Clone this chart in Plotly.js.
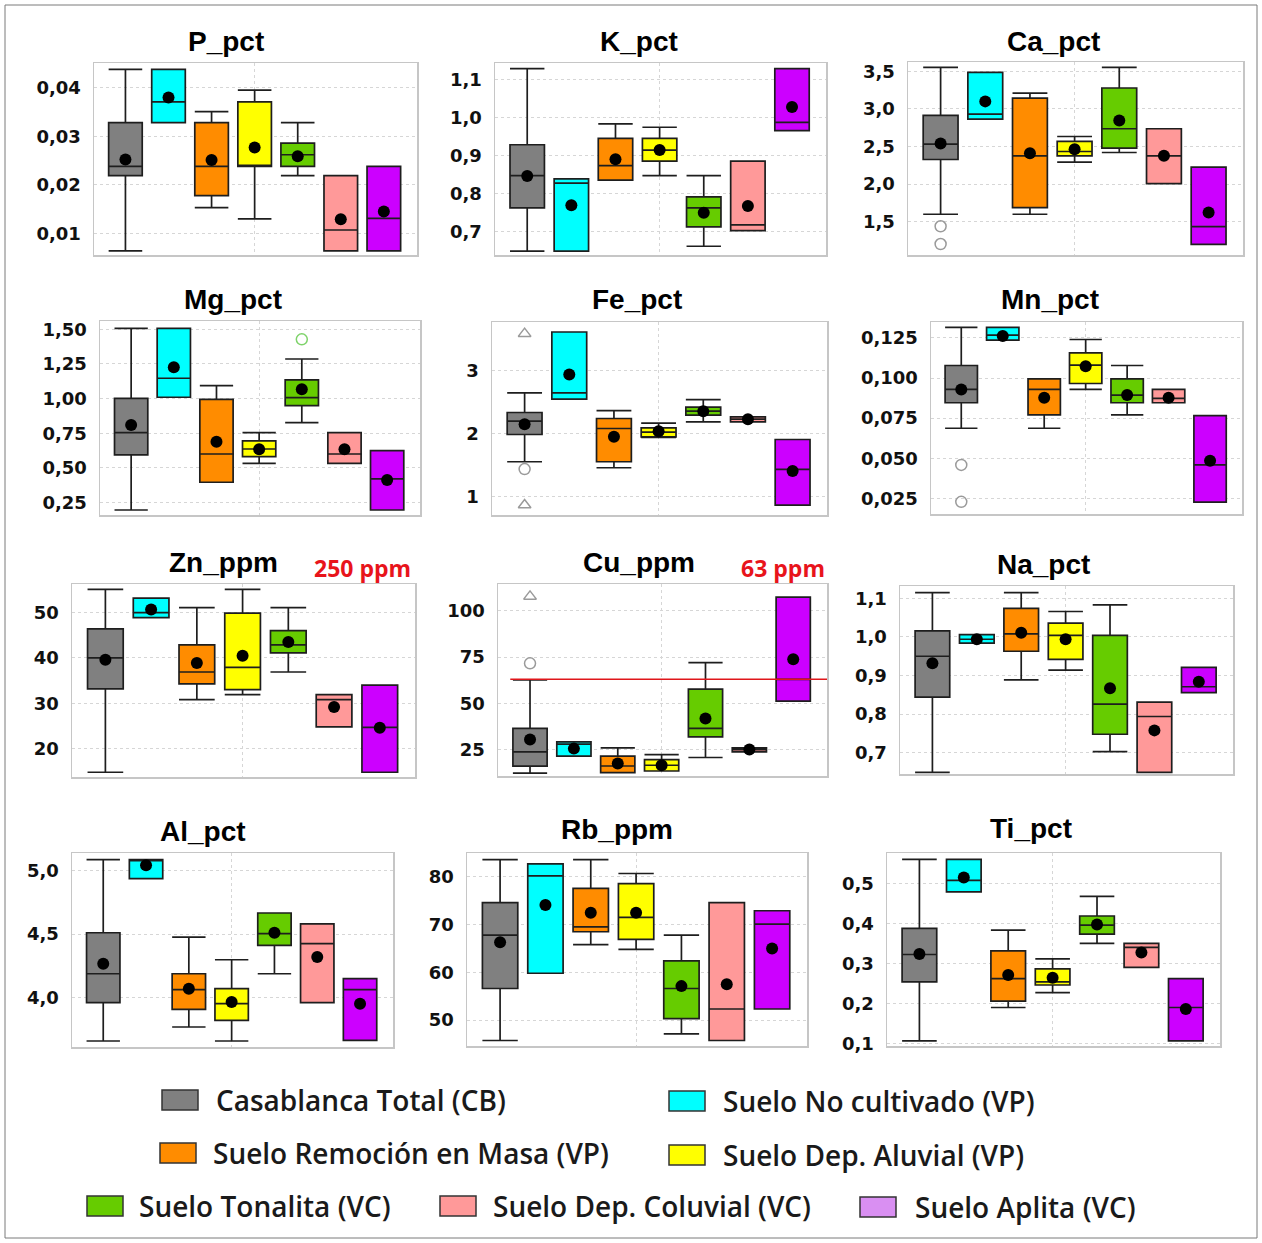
<!DOCTYPE html>
<html>
<head>
<meta charset="utf-8">
<script src="https://cdn.plot.ly/plotly-3.0.1.min.js"></script>
<style>html,body{margin:0;padding:0;background:#fff}#chart{width:1262px;height:1243px}</style>
</head>
<body>
<div id="chart"></div>
<script>
// ---------------- DATA ----------------
const groups = ['Casablanca Total (CB)', 'Suelo No cultivado (VP)', 'Suelo Remoción en Masa (VP)',
  'Suelo Dep. Aluvial (VP)', 'Suelo Tonalita (VC)', 'Suelo Dep. Coluvial (VC)', 'Suelo Aplita (VC)'];
const panelNames = ['P_pct', 'K_pct', 'Ca_pct', 'Mg_pct', 'Fe_pct', 'Mn_pct',
  'Zn_ppm', 'Cu_ppm', 'Na_pct', 'Al_pct', 'Rb_ppm', 'Ti_pct'];

// order of each array: gray, cyan, orange, yellow, green, pink, purple
const P_pct = {
  lo:   [0.0064, 0.0328, 0.0153, 0.0130, 0.0219, 0.0064, 0.0064],
  q1:   [0.0219, 0.0328, 0.0178, 0.0238, 0.0238, 0.0064, 0.0064],
  med:  [0.0238, 0.0371, 0.0238, 0.0238, 0.0262, 0.0107, 0.0131],
  q3:   [0.0328, 0.0438, 0.0328, 0.0371, 0.0286, 0.0219, 0.0238],
  hi:   [0.0438, 0.0438, 0.0351, 0.0395, 0.0328, 0.0219, 0.0238],
  mean: [0.0252, 0.0380, 0.0251, 0.0277, 0.0259, 0.0129, 0.0145]
};
const K_pct = {
  lo:   [0.649, 0.649, 0.836, 0.848, 0.662, 0.703, 0.966],
  q1:   [0.763, 0.649, 0.836, 0.886, 0.713, 0.703, 0.966],
  med:  [0.848, 0.828, 0.874, 0.915, 0.763, 0.718, 0.988],
  q3:   [0.929, 0.839, 0.946, 0.946, 0.792, 0.886, 1.129],
  hi:   [1.129, 0.839, 0.984, 0.975, 0.848, 0.886, 1.129],
  mean: [0.847, 0.770, 0.891, 0.915, 0.750, 0.768, 1.028]
};
const Ca_pct = {
  lo:   [1.598, 2.864, 1.598, 2.291, 2.420, 2.007, 1.198],
  q1:   [2.327, 2.864, 1.687, 2.376, 2.478, 2.007, 1.198],
  med:  [2.531, 2.930, 2.376, 2.433, 2.736, 2.376, 1.433],
  q3:   [2.913, 3.487, 3.144, 2.567, 3.278, 2.736, 2.224],
  hi:   [3.553, 3.487, 3.211, 2.633, 3.553, 2.736, 2.224],
  mean: [2.540, 3.100, 2.411, 2.464, 2.847, 2.376, 1.620]
};
const Mg_pct = {
  lo:   [0.197, 1.010, 0.397, 0.534, 0.827, 0.534, 0.197],
  q1:   [0.594, 1.010, 0.397, 0.582, 0.950, 0.534, 0.197],
  med:  [0.755, 1.147, 0.601, 0.637, 1.007, 0.601, 0.421],
  q3:   [1.002, 1.507, 0.995, 0.695, 1.135, 0.755, 0.625],
  hi:   [1.507, 1.507, 1.094, 0.755, 1.286, 0.755, 0.625],
  mean: [0.810, 1.226, 0.690, 0.635, 1.067, 0.635, 0.413]
};
const Fe_pct = {
  lo:   [1.553, 2.542, 1.458, 1.940, 2.184, 2.184, 0.868],
  q1:   [1.984, 2.542, 1.553, 1.947, 2.289, 2.184, 0.868],
  med:  [2.195, 2.642, 2.079, 2.021, 2.353, 2.226, 1.432],
  q3:   [2.332, 3.605, 2.237, 2.089, 2.416, 2.263, 1.905],
  hi:   [2.642, 3.605, 2.363, 2.163, 2.537, 2.263, 1.905],
  mean: [2.147, 2.932, 1.947, 2.037, 2.353, 2.226, 1.405]
};
const Mn_pct = {
  lo:   [0.0687, 0.1236, 0.0687, 0.0929, 0.0770, 0.0846, 0.0227],
  q1:   [0.0846, 0.1236, 0.0770, 0.0966, 0.0846, 0.0846, 0.0227],
  med:  [0.0929, 0.1267, 0.0929, 0.1080, 0.0894, 0.0873, 0.0459],
  q3:   [0.1078, 0.1316, 0.0995, 0.1157, 0.0995, 0.0929, 0.0766],
  hi:   [0.1316, 0.1316, 0.0995, 0.1240, 0.1078, 0.0929, 0.0766],
  mean: [0.0929, 0.1262, 0.0877, 0.1074, 0.0894, 0.0877, 0.0484]
};
const Zn_ppm = {
  lo:   [14.8, 48.9, 30.8, 31.9, 36.9, 24.8, 14.8],
  q1:   [33.2, 48.9, 34.3, 33.0, 41.1, 24.8, 14.8],
  med:  [40.0, 50.0, 36.9, 37.9, 42.9, 30.8, 24.7],
  q3:   [46.4, 53.2, 42.9, 49.9, 46.0, 31.9, 34.0],
  hi:   [55.1, 53.2, 51.1, 55.1, 51.1, 31.9, 34.0],
  mean: [39.6, 50.7, 38.9, 40.5, 43.5, 29.2, 24.6]
};
const Cu_ppm = {
  lo:   [12.3, 21.4, 12.5, 13.4, 20.7, 23.7, 51.2],
  q1:   [16.0, 21.4, 12.5, 13.4, 31.9, 23.7, 51.2],
  med:  [23.7, 27.9, 16.1, 16.5, 36.4, 25.0, 62.9],
  q3:   [36.4, 29.2, 21.4, 19.6, 57.7, 25.9, 107.4],
  hi:   [62.6, 29.2, 25.9, 22.3, 72.0, 25.9, 107.4],
  mean: [30.4, 25.5, 17.4, 16.5, 41.8, 25.0, 73.8]
};
const Na_pct = {
  lo:   [0.649, 0.984, 0.889, 0.914, 0.703, 0.649, 0.856],
  q1:   [0.844, 0.984, 0.963, 0.942, 0.748, 0.649, 0.856],
  med:  [0.950, 0.994, 1.008, 1.004, 0.826, 0.794, 0.871],
  q3:   [1.016, 1.006, 1.074, 1.036, 1.004, 0.831, 0.921],
  hi:   [1.115, 1.006, 1.115, 1.066, 1.083, 0.831, 0.921],
  mean: [0.932, 0.994, 1.011, 0.994, 0.867, 0.758, 0.884]
};
const Al_pct = {
  lo:   [3.660, 4.935, 3.770, 3.660, 4.188, 3.961, 3.665],
  q1:   [3.961, 4.935, 3.908, 3.822, 4.411, 3.961, 3.665],
  med:  [4.188, 5.084, 4.063, 3.953, 4.503, 4.424, 4.063],
  q3:   [4.510, 5.084, 4.188, 4.071, 4.665, 4.579, 4.149],
  hi:   [5.084, 5.084, 4.476, 4.298, 4.665, 4.579, 4.149],
  mean: [4.267, 5.039, 4.071, 3.966, 4.510, 4.319, 3.953]
};
const Rb_ppm = {
  lo:   [45.7, 59.8, 65.8, 64.8, 47.1, 45.7, 52.3],
  q1:   [56.6, 59.8, 68.5, 66.9, 50.3, 45.7, 52.3],
  med:  [67.8, 80.2, 69.5, 71.5, 56.6, 52.3, 70.1],
  q3:   [74.6, 82.7, 77.6, 78.6, 62.4, 74.6, 72.9],
  hi:   [83.6, 82.7, 83.6, 80.7, 67.8, 74.6, 72.9],
  mean: [66.3, 74.1, 72.5, 72.5, 57.1, 57.5, 65.0]
};
const Ti_pct = {
  lo:   [0.108, 0.479, 0.191, 0.228, 0.351, 0.291, 0.108],
  q1:   [0.255, 0.479, 0.207, 0.247, 0.374, 0.291, 0.108],
  med:  [0.323, 0.508, 0.263, 0.255, 0.396, 0.341, 0.191],
  q3:   [0.388, 0.560, 0.332, 0.287, 0.419, 0.351, 0.263],
  hi:   [0.560, 0.560, 0.384, 0.312, 0.468, 0.351, 0.263],
  mean: [0.324, 0.515, 0.272, 0.265, 0.398, 0.328, 0.187]
};

// outliers: [panel index, group index, values, symbol]
const outliers = [
  [2, 0, [1.438, 1.202], 'circle-open'],
  [3, 4, [1.428], 'circle-open'],
  [4, 0, [1.437], 'circle-open'],
  [4, 0, [3.579, 0.868], 'triangle-up-open'],
  [5, 0, [0.0459, 0.0229], 'circle-open'],
  [7, 0, [71.6], 'circle-open'],
  [7, 0, [107.8], 'triangle-up-open']
];

// y-axis ticks and ranges
const yTicks = [
  [0.01, 0.02, 0.03, 0.04], [0.7, 0.8, 0.9, 1.0, 1.1], [1.5, 2.0, 2.5, 3.0, 3.5],
  [0.25, 0.50, 0.75, 1.00, 1.25, 1.50], [1, 2, 3], [0.025, 0.050, 0.075, 0.100, 0.125],
  [20, 30, 40, 50], [25, 50, 75, 100], [0.7, 0.8, 0.9, 1.0, 1.1],
  [4.0, 4.5, 5.0], [50, 60, 70, 80], [0.1, 0.2, 0.3, 0.4, 0.5]
];
const yFormats = ['.2f', '.1f', '.1f', '.2f', 'd', '.3f', 'd', 'd', '.1f', '.1f', 'd', '.1f'];
const yRanges = [
  [0.00555, 0.0451], [0.639, 1.144], [1.056, 3.624], [0.161, 1.56], [0.711, 3.763], [0.0153, 0.1349],
  [13.75, 56.3], [10.7, 114.5], [0.645, 1.132], [3.613, 5.136], [44.55, 85.0], [0.095, 0.576]
];
// reference levels
const Cu_limit = 63;
const limitLabels = [[6, '250 ppm'], [7, '63 ppm']];

// ---------------- STYLE / LAYOUT ----------------
const colors = ['#808080', '#00ffff', '#ff8c00', '#ffff00', '#66cc00', '#ff9999', '#cc00ff'];
const legendColors = ['#808080', '#00ffff', '#ff8c00', '#ffff00', '#66cc00', '#ff9999', '#d98ff2'];
const stats = [P_pct, K_pct, Ca_pct, Mg_pct, Fe_pct, Mn_pct, Zn_ppm, Cu_ppm, Na_pct, Al_pct, Rb_ppm, Ti_pct];

const W = 1262, H = 1243;
// plot areas in px: [left, right, top, bottom]
const boxesPx = [
  [94, 417, 63, 255], [495, 826, 63, 255], [908, 1243, 62, 255],
  [100, 420, 321, 515], [492, 827, 322, 515], [931, 1242, 322, 514],
  [72, 415, 584, 777], [498, 827, 584, 776], [900, 1233, 586, 774],
  [72, 393, 853, 1047], [467, 807, 853, 1046], [887, 1220, 853, 1046]
];
const titlesPx = [
  [226, 41], [639, 41], [1053, 41], [233, 299], [637, 299], [1050, 299],
  [223, 562], [639, 562], [1043, 564], [203, 831], [617, 829], [1031, 828]
];
const limitLabelPx = {6: [413, 568], 7: [827, 568]};
// legend layout: [swatch left, swatch centre y, text left]
const legendPx = [
  [162, 1100, 214], [669, 1101, 721],
  [160, 1153, 211], [669, 1155, 721],
  [87, 1206, 137], [440, 1206, 491], [860, 1207, 913]
];
const XR = [-0.73, 6.77];
const lineCol = '#1e1e1e';
const gridCol = '#d6d6d6';
const frameCol = '#c6c6c6';

const px2x = v => v / W;
const px2y = v => 1 - v / H;

const traces = [];
const layout = {
  width: W, height: H,
  margin: {l: 0, r: 0, t: 0, b: 0},
  paper_bgcolor: '#ffffff', plot_bgcolor: '#ffffff',
  boxmode: 'overlay',
  separators: ',.',
  showlegend: false,
  shapes: [], annotations: []
};

stats.forEach((s, i) => {
  const n = i + 1;
  const xa = n === 1 ? 'x' : 'x' + n;
  const ya = n === 1 ? 'y' : 'y' + n;
  const b = boxesPx[i];
  layout[n === 1 ? 'xaxis' : 'xaxis' + n] = {
    domain: [px2x(b[0]), px2x(b[1])], range: XR, anchor: ya,
    tickvals: [3], showticklabels: false, ticks: '',
    showgrid: true, gridcolor: gridCol, griddash: '3px,3px', gridwidth: 1,
    zeroline: false, showline: true, mirror: true, linecolor: frameCol, linewidth: 1.5,
    fixedrange: true
  };
  layout[n === 1 ? 'yaxis' : 'yaxis' + n] = {
    domain: [px2y(b[3]), px2y(b[2])], range: yRanges[i], anchor: xa,
    tickvals: yTicks[i], tickformat: yFormats[i], ticks: '', ticklabelstandoff: 8,
    tickfont: {family: 'DejaVu Sans', size: 18, color: '#111111', weight: 'bold'},
    showgrid: true, gridcolor: gridCol, griddash: '3px,3px', gridwidth: 1,
    zeroline: false, showline: true, mirror: true, linecolor: frameCol, linewidth: 1.5,
    fixedrange: true
  };
  for (let g = 0; g < groups.length; g++) {
    traces.push({
      type: 'box', orientation: 'v', name: groups[g], x: [g],
      q1: [s.q1[g]], median: [s.med[g]], q3: [s.q3[g]],
      lowerfence: [s.lo[g]], upperfence: [s.hi[g]],
      width: 0.78, whiskerwidth: 1, boxpoints: false,
      fillcolor: colors[g], line: {color: lineCol, width: 1.7},
      xaxis: xa, yaxis: ya, showlegend: false, hoverinfo: 'skip'
    });
  }
  traces.push({
    type: 'scatter', mode: 'markers', x: groups.map((_, g) => g), y: s.mean,
    marker: {color: '#000000', size: 12}, xaxis: xa, yaxis: ya, showlegend: false, hoverinfo: 'skip'
  });
  const t = titlesPx[i];
  layout.annotations.push({
    text: panelNames[i], xref: 'paper', yref: 'paper', x: px2x(t[0]), y: px2y(t[1]),
    xanchor: 'center', yanchor: 'middle', showarrow: false,
    font: {family: 'Liberation Sans', size: 28, color: '#000000', weight: 'bold'}
  });
});

outliers.forEach(o => {
  const n = o[0] + 1;
  const xa = n === 1 ? 'x' : 'x' + n;
  const ya = n === 1 ? 'y' : 'y' + n;
  const col = o[1] === 4 ? '#7fd36b' : '#9a9a9a';
  traces.push({
    type: 'scatter', mode: 'markers', x: o[2].map(() => o[1]), y: o[2],
    marker: {symbol: o[3], color: col, size: 11, line: {color: col, width: 1.5}},
    xaxis: xa, yaxis: ya, showlegend: false, hoverinfo: 'skip'
  });
});

// Cu reference line
layout.shapes.push({
  type: 'line', xref: 'x8', yref: 'y8', x0: -0.45, x1: XR[1], y0: Cu_limit, y1: Cu_limit,
  line: {color: '#e0161b', width: 1.6}, layer: 'above'
});
limitLabels.forEach(l => {
  const p = limitLabelPx[l[0]];
  layout.annotations.push({
    text: l[1], xref: 'paper', yref: 'paper', x: px2x(p[0]), y: px2y(p[1]),
    xanchor: 'right', yanchor: 'middle', showarrow: false,
    font: {family: 'Open Sans', size: 23, color: '#e8141b', weight: 'bold'}
  });
});

// legend drawn as swatches + labels
groups.forEach((g, k) => {
  const p = legendPx[k];
  layout.shapes.push({
    type: 'rect', xref: 'paper', yref: 'paper',
    x0: px2x(p[0]), x1: px2x(p[0] + 36), y0: px2y(p[1] + 10), y1: px2y(p[1] - 10),
    fillcolor: legendColors[k], line: {color: '#333333', width: 1.5}
  });
  layout.annotations.push({
    text: g, xref: 'paper', yref: 'paper', x: px2x(p[2]), y: px2y(p[1]),
    xanchor: 'left', yanchor: 'middle', showarrow: false,
    font: {family: 'Open Sans', size: 28, color: '#1a1a1a', weight: 600}
  });
});

// outer frame
layout.shapes.push({
  type: 'rect', xref: 'paper', yref: 'paper',
  x0: px2x(5), x1: px2x(1257), y0: px2y(1238), y1: px2y(5),
  line: {color: '#7a7a7a', width: 1}, fillcolor: 'rgba(0,0,0,0)'
});

Plotly.newPlot('chart', traces, layout, {staticPlot: true, displayModeBar: false});
</script>
</body>
</html>
